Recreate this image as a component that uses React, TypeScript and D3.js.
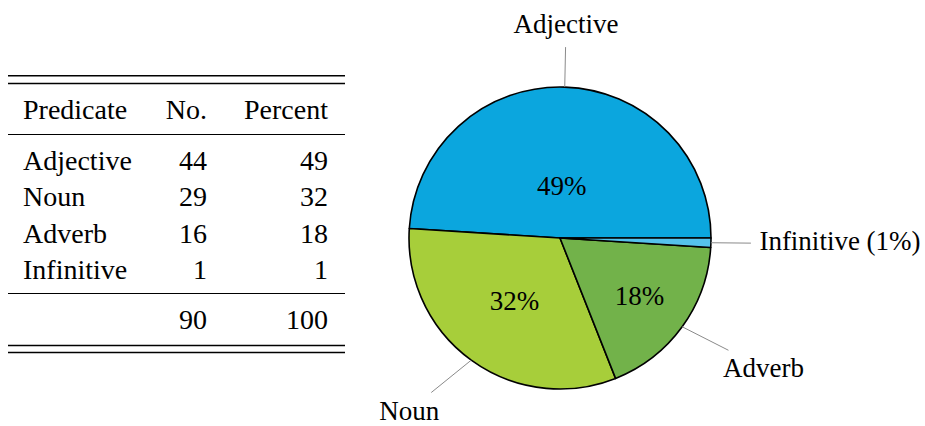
import React from "react";
import * as d3 from "d3";

const categories = ["Adjective", "Noun", "Adverb", "Infinitive"];
const counts = [44, 29, 16, 1];
const percents = [49, 32, 18, 1];
const totalCount = 90;
const totalPercent = 100;
const outerLabels = ["Adjective", "Noun", "Adverb", "Infinitive (1%)"];
const showInner = [true, true, true, false];
const headers = ["Predicate", "No.", "Percent"];
const colors = ["#0ba6de", "#a7ce3a", "#72b24a", "#55c2ec"];

const W = 925;
const H = 426;
const FONT = "'Liberation Serif'";
const FS = 28;
const PFS = 27;

let ctx: CanvasRenderingContext2D | null = null;
function measure(t: string, size: number): number {
  if (!ctx) ctx = document.createElement("canvas").getContext("2d");
  if (!ctx) return t.length * size * 0.5;
  ctx.font = `${size}px ${FONT}`;
  return ctx.measureText(t).width;
}

function anchorFor(deg: number): [number, number] {
  const a = ((deg % 360) + 360) % 360;
  if (a < 2.5 || a > 357.5) return [0, 0.5];
  if (a < 87.5) return [0, 1];
  if (a < 92.5) return [0.5, 1];
  if (a < 177.5) return [1, 1];
  if (a < 182.5) return [1, 0.5];
  if (a < 267.5) return [1, 0];
  if (a < 272.5) return [0.5, 0];
  return [0, 0];
}

export default function App() {
  const tLeft = 8, tRight = 345;
  const colX = [23, 207, 328];
  const rowY = d3.scaleLinear().domain([0, 3]).range([170, 279]);
  const headerY = 118.5;
  const totalY = 329;

  const cx = 560, cy = 238, r = 151;
  const pie = d3
    .pie<number>()
    .sort(null)
    .value((d) => d)
    .startAngle(Math.PI / 2)
    .endAngle(Math.PI / 2 - 2 * Math.PI);
  const arcs = pie(percents);
  const arcGen = d3.arc<d3.PieArcDatum<number>>().innerRadius(0).outerRadius(r);

  const pd = 40;
  const isep = 8.5;

  const slices = arcs.map((a, i) => {
    const s0 = 90 - (a.startAngle * 180) / Math.PI;
    const s1 = 90 - (a.endAngle * 180) / Math.PI;
    const span = Math.abs(s1 - s0);
    const mid = (s0 + s1) / 2;
    const rad = (mid * Math.PI) / 180;
    const dx = Math.cos(rad), dy = -Math.sin(rad);
    const inner = (Math.max(Math.min(((span - 10) / 110) * -0.3, 0), -0.5) + 0.8) * r;
    const px = cx + r * dx, py = cy + r * dy;
    const ax = px + pd * dx, ay = py + pd * dy;
    const label = outerLabels[i];
    const tw = measure(label, PFS);
    const hasDepth = /[gjpqy(]/.test(label);
    const th = PFS * 0.69;
    const dp = hasDepth ? PFS * 0.22 : 0;
    const bw = tw + 2 * isep;
    const bh = th + dp + 2 * isep;
    const [fx, fy] = anchorFor(mid);
    const x0 = ax - fx * bw;
    const y0 = ay - fy * bh;
    const bcx = x0 + bw / 2, bcy = y0 + bh / 2;
    const vx = px - bcx, vy = py - bcy;
    const sc = Math.min(
      Math.abs(vx) > 1e-6 ? bw / 2 / Math.abs(vx) : Infinity,
      Math.abs(vy) > 1e-6 ? bh / 2 / Math.abs(vy) : Infinity
    );
    const ex = bcx + sc * vx, ey = bcy + sc * vy;
    return {
      d: arcGen(a) || "",
      color: colors[i],
      ix: cx + inner * dx,
      iy: cy + inner * dy,
      pct: `${percents[i]}%`,
      px, py, ex, ey,
      lx: bcx,
      ly: y0 + isep + th,
      label,
      inner: showInner[i],
    };
  });

  return (
    <svg width={W} height={H} style={{ position: "absolute", left: 0, top: 0, fontFamily: FONT, fontSize: FS }}>
      <rect width={W} height={H} fill="#fff" />
      <g>
        <line x1={tLeft} x2={tRight} y1={75.7} y2={75.7} stroke="#000" strokeWidth={1.6} />
        <line x1={tLeft} x2={tRight} y1={83.5} y2={83.5} stroke="#000" strokeWidth={1.6} />
        <text x={colX[0]} y={headerY}>{headers[0]}</text>
        <text x={colX[1]} y={headerY} textAnchor="end">{headers[1]}</text>
        <text x={colX[2]} y={headerY} textAnchor="end">{headers[2]}</text>
        <line x1={tLeft} x2={tRight} y1={134.5} y2={134.5} stroke="#000" strokeWidth={1} />
        {categories.map((c, i) => (
          <g key={c}>
            <text x={colX[0]} y={rowY(i)}>{c}</text>
            <text x={colX[1]} y={rowY(i)} textAnchor="end">{counts[i]}</text>
            <text x={colX[2]} y={rowY(i)} textAnchor="end">{percents[i]}</text>
          </g>
        ))}
        <line x1={tLeft} x2={tRight} y1={293.5} y2={293.5} stroke="#000" strokeWidth={1} />
        <text x={colX[1]} y={totalY} textAnchor="end">{totalCount}</text>
        <text x={colX[2]} y={totalY} textAnchor="end">{totalPercent}</text>
        <line x1={tLeft} x2={tRight} y1={345.5} y2={345.5} stroke="#000" strokeWidth={1.6} />
        <line x1={tLeft} x2={tRight} y1={352.5} y2={352.5} stroke="#000" strokeWidth={1.6} />
      </g>
      <g transform={`translate(${cx},${cy})`}>
        {slices.map((s, i) => (
          <path key={i} d={s.d} fill={s.color} stroke="#000" strokeWidth={1.6} strokeLinejoin="round" />
        ))}
      </g>
      <g fontSize={PFS}>
        {slices.map((s, i) => (
          <g key={`l${i}`}>
            {s.inner && (
              <text x={s.ix} y={s.iy} textAnchor="middle" dominantBaseline="central">{s.pct}</text>
            )}
            <line x1={s.px} y1={s.py} x2={s.ex} y2={s.ey} stroke="#8a8a8a" strokeWidth={1} />
            <text x={s.lx} y={s.ly} textAnchor="middle">{s.label}</text>
          </g>
        ))}
      </g>
    </svg>
  );
}
